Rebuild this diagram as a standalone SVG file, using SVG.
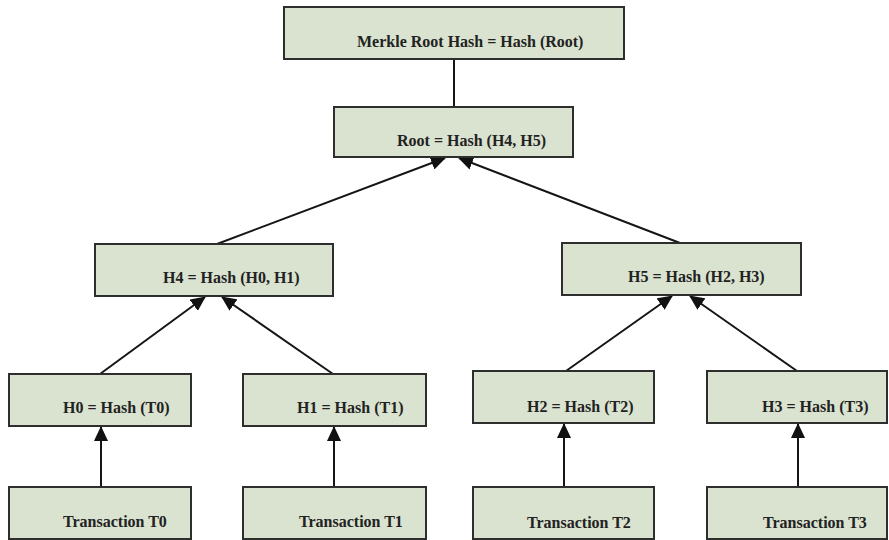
<svg xmlns="http://www.w3.org/2000/svg" width="889" height="540" viewBox="0 0 889 540">
  <style>
    .box { fill: #dae3d0; stroke: #2e2e2e; stroke-width: 2; }
    .lbl { font-family: 'Liberation Serif', 'Times New Roman', 'DejaVu Serif', serif; font-weight: 700; font-size: 16px; fill: #222; }
    .edge { stroke: #151515; stroke-width: 2; fill: none; }
    .arrow { marker-end: url(#head); }
  </style>
  <defs>
    <marker id="head" markerUnits="userSpaceOnUse" markerWidth="15" markerHeight="14" refX="14" refY="7" orient="auto">
      <path d="M0,0 L15,7 L0,14 z" fill="#111"/>
    </marker>
  </defs>
  <rect width="889" height="540" fill="#fff"/>

  <!-- edges: child hash feeds its parent -->
  <g id="connectors">
    <line class="edge" x1="454" y1="59" x2="454" y2="107"/>
    <line class="edge arrow" x1="217" y1="244" x2="445" y2="158"/>
    <line class="edge arrow" x1="680" y1="243" x2="459" y2="158"/>
    <line class="edge arrow" x1="100" y1="374" x2="205" y2="297"/>
    <line class="edge arrow" x1="333" y1="374" x2="222" y2="297"/>
    <line class="edge arrow" x1="566" y1="371" x2="672" y2="296"/>
    <line class="edge arrow" x1="797" y1="371" x2="690" y2="296"/>
    <line class="edge arrow" x1="101" y1="487" x2="101" y2="427"/>
    <line class="edge arrow" x1="334" y1="487" x2="334" y2="427"/>
    <line class="edge arrow" x1="564" y1="487" x2="564" y2="424"/>
    <line class="edge arrow" x1="798" y1="487" x2="798" y2="424"/>
  </g>

  <g id="merkle-root">
    <rect class="box" x="284" y="7" width="340" height="52"/>
    <text class="lbl" font-family="Liberation Serif" x="357" y="47">Merkle Root Hash = Hash (Root)</text>
  </g>
  <g id="root">
    <rect class="box" x="334" y="107" width="239" height="50"/>
    <text class="lbl" x="397" y="146">Root = Hash (H4, H5)</text>
  </g>
  <g id="h4">
    <rect class="box" x="95" y="244" width="238" height="52"/>
    <text class="lbl" x="163" y="283">H4 = Hash (H0, H1)</text>
  </g>
  <g id="h5">
    <rect class="box" x="562" y="243" width="239" height="52"/>
    <text class="lbl" x="628" y="282">H5 = Hash (H2, H3)</text>
  </g>
  <g id="h0">
    <rect class="box" x="9" y="374" width="182" height="52"/>
    <text class="lbl" x="63" y="413">H0 = Hash (T0)</text>
  </g>
  <g id="h1">
    <rect class="box" x="243" y="374" width="183" height="52"/>
    <text class="lbl" x="297" y="413">H1 = Hash (T1)</text>
  </g>
  <g id="h2">
    <rect class="box" x="473" y="371" width="181" height="52"/>
    <text class="lbl" x="527" y="412">H2 = Hash (T2)</text>
  </g>
  <g id="h3">
    <rect class="box" x="707" y="371" width="180" height="52"/>
    <text class="lbl" x="762" y="412">H3 = Hash (T3)</text>
  </g>
  <g id="t0">
    <rect class="box" x="9" y="487" width="182" height="52"/>
    <text class="lbl" x="63" y="527">Transaction T0</text>
  </g>
  <g id="t1">
    <rect class="box" x="243" y="487" width="183" height="52"/>
    <text class="lbl" x="299" y="527">Transaction T1</text>
  </g>
  <g id="t2">
    <rect class="box" x="473" y="487" width="181" height="52"/>
    <text class="lbl" x="527" y="528">Transaction T2</text>
  </g>
  <g id="t3">
    <rect class="box" x="707" y="487" width="180" height="52"/>
    <text class="lbl" x="763" y="528">Transaction T3</text>
  </g>
</svg>
